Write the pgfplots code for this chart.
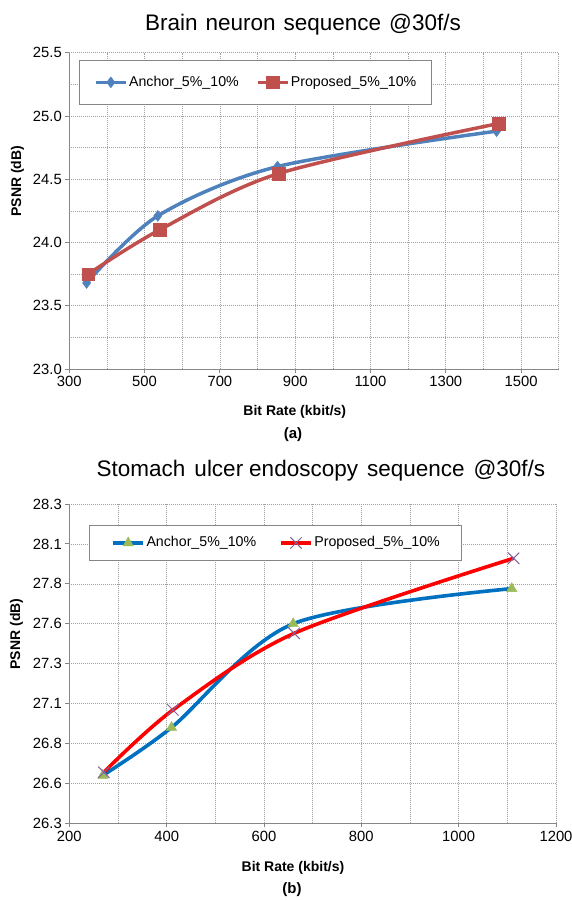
\documentclass[border=0pt]{standalone}
\usepackage{fontspec}
\setmainfont{Liberation Sans}
\usepackage{pgfplots}
\pgfplotsset{compat=1.18}
\definecolor{ancA}{HTML}{4F81BD}
\definecolor{proA}{HTML}{C0504D}
\definecolor{ancB}{HTML}{0070C0}
\definecolor{triB}{HTML}{9BBB59}
\definecolor{proB}{HTML}{FF0000}
\definecolor{xB}{HTML}{8064A2}
\definecolor{axgray}{HTML}{868686}
\definecolor{gridgray}{HTML}{A0A0A0}

\pgfplotsset{
  excel/.style={
    scale only axis,
    clip=false,
    axis x line=bottom, axis y line=left,
    axis line style={-, axgray, line width=0.9pt},
    tick align=outside,
    major tick length=4pt, minor tick length=0pt,
    every tick/.style={axgray, line width=0.9pt},
    grid=both,
    major grid style={gridgray, line width=0.6pt, dash pattern=on 1pt off 1pt},
    minor grid style={gridgray, line width=0.6pt, dash pattern=on 1pt off 1pt},
    /pgf/number format/assume math mode=true,
    /pgf/number format/1000 sep={},
    tick label style={font=\fontsize{14.8}{17}\selectfont, black},
    label style={font=\fontsize{14}{16}\selectfont\bfseries},
    legend columns=2,
    legend style={draw=axgray, line width=0.8pt, fill=white,
      font=\fontsize{14.2}{16}\selectfont, anchor=north west,
      nodes={inner sep=0pt, text height=10.5pt, text depth=3pt}},
    legend image code/.code={\draw[mark repeat=2, mark phase=2, #1]
      plot coordinates {(0pt,0pt) (15pt,0pt) (30pt,0pt)};},
  }
}

\begin{document}
\begin{tikzpicture}
\path[use as bounding box] (0,0) rectangle (572pt,-901pt);

% ---------------- (a) ----------------
\node[anchor=base, font=\fontsize{22.5}{26}\selectfont] at (303pt,-30.7pt)
  {Brain\hspace{8pt}neuron\hspace{8pt}sequence\hspace{8pt}@30f/s};
\begin{axis}[excel,
  at={(69.3pt,-369pt)}, anchor=south west,
  width=489.4pt, height=316.3pt,
  xmin=300, xmax=1600, ymin=23, ymax=25.5,
  xtick={300,500,...,1500}, minor xtick={400,600,...,1600},
  ytick={23,23.5,...,25.5}, minor ytick={23.25,23.75,...,25.25},
  yticklabel style={/pgf/number format/.cd, fixed, fixed zerofill, precision=1},
  xlabel={Bit Rate (kbit/s)}, ylabel={PSNR (dB)},
  xlabel style={at={(axis description cs:0.4608,-0.136)}, anchor=center},
  ylabel style={at={(axis description cs:-0.1058,0.594)}, anchor=center},
  legend style={at={(axis description cs:0.0192,0.977)},
    inner xsep=15pt, inner ysep=15.25pt, column sep=1.5pt,
    /tikz/every even column/.append style={column sep=17pt}},
]
\addplot[ancA, line width=3.5pt, smooth, tension=0.5, mark=diamond*, mark size=5.5pt,
  mark options={solid, line width=0.4pt, fill=ancA, draw=ancA}]
  coordinates {(346,23.68) (535,24.21) (853,24.60) (1435,24.88)};
\addlegendentry{Anchor\_5\%\_10\%}
\addplot[proA, line width=3.5pt, smooth, tension=0.5, mark=square*, mark size=6.3pt,
  mark options={solid, line width=0.4pt, fill=proA, draw=proA}]
  coordinates {(350,23.75) (540,24.10) (856,24.545) (1440,24.94)};
\addlegendentry{Proposed\_5\%\_10\%}
\end{axis}
\node[font=\fontsize{15}{18}\selectfont\bfseries] at (293pt,-435pt) {(a)};

% ---------------- (b) ----------------
\node[anchor=base, font=\fontsize{22.5}{26}\selectfont] at (321pt,-476.5pt)
  {Stomach\hspace{9pt}ulcer\hspace{6pt}endoscopy\hspace{9pt}sequence\hspace{9pt}@30f/s};
\begin{axis}[excel,
  at={(69.3pt,-823.3pt)}, anchor=south west,
  width=486.7pt, height=319.3pt,
  xmin=200, xmax=1200, ymin=26.3, ymax=28.3,
  xtick={200,400,...,1200}, minor xtick={300,500,...,1100},
  ytick={26.3,26.55,26.8,27.05,27.3,27.55,27.8,28.05,28.3},
  yticklabels={26.3,26.6,26.8,27.1,27.3,27.6,27.8,28.1,28.3},
  xlabel={Bit Rate (kbit/s)}, ylabel={PSNR (dB)},
  xlabel style={at={(axis description cs:0.4596,-0.140)}, anchor=center},
  ylabel style={at={(axis description cs:-0.1085,0.593)}, anchor=center},
  legend style={at={(axis description cs:0.0411,0.934)},
    inner xsep=21.7pt, inner ysep=10.75pt, column sep=1.5pt,
    /tikz/every even column/.append style={column sep=23pt}},
]
\addplot[ancB, line width=3.6pt, smooth, tension=0.5, mark=triangle*, mark size=6pt,
  mark options={solid, line width=0.4pt, fill=triB, draw=triB}]
  coordinates {(269,26.60) (410,26.90) (660,27.55) (1109,27.77)};
\addlegendentry{Anchor\_5\%\_10\%}
\addplot[proB, line width=3.6pt, smooth, tension=0.5, mark=x, mark size=8pt,
  mark options={solid, line width=1pt, draw=xB}]
  coordinates {(271,26.62) (413,27.01) (662,27.49) (1113,27.96)};
\addlegendentry{Proposed\_5\%\_10\%}
\end{axis}
\node[font=\fontsize{15}{18}\selectfont\bfseries] at (292pt,-890pt) {(b)};
\end{tikzpicture}
\end{document}
